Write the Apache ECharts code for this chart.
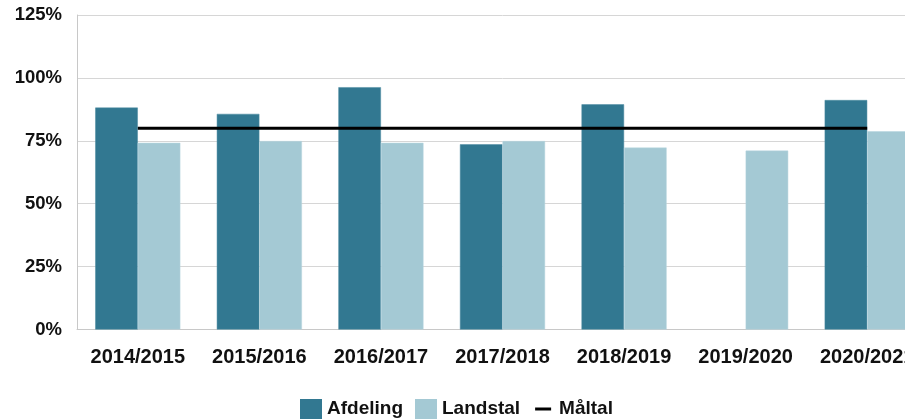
<!DOCTYPE html>
<html>
<head>
<meta charset="utf-8">
<script src="https://cdn.jsdelivr.net/npm/echarts@6/dist/echarts.min.js"></script>
<style>
  html, body { margin: 0; padding: 0; background: #fff; overflow: hidden; }
  #chart { width: 960px; height: 419px; }
</style>
</head>
<body>
<div id="chart"></div>
<script>
// data
const categories = ['2014/2015', '2015/2016', '2016/2017', '2017/2018', '2018/2019', '2019/2020', '2020/2021']
const afdeling = [88.2, 85.7, 96.3, 73.6, 89.5, null, 91.2]
const landstal = [74.2, 74.9, 74.2, 74.9, 72.3, 71.1, 78.8]
const maltal = [80, 80, 80, 80, 80, 80, 80]
const yTicks = [0, 25, 50, 75, 100, 125]

const font = '"Liberation Sans", Arial, sans-serif'
const myChart = echarts.init(document.getElementById('chart'))

myChart.setOption({
  animation: false,
  grid: { left: 77, right: 32, top: 15, bottom: 89.5 },
  legend: {
    left: 300,
    top: 399,
    padding: 0,
    itemWidth: 22,
    itemHeight: 20,
    itemGap: 12,
    icon: 'rect',
    itemStyle: { borderWidth: 0 },
    textStyle: { fontFamily: font, fontWeight: 'bold', fontSize: 19, color: '#111' },
    data: [
      'Afdeling',
      'Landstal',
      // thin black dash for the target line, with the bounding box kept by the moves
      { name: 'Måltal', icon: 'path://M0,0M22,20M3,8.5H19V11.5H3Z' }
    ]
  },
  xAxis: {
    type: 'category',
    data: categories,
    axisLine: { lineStyle: { color: '#c8c8c8' } },
    axisTick: { show: false },
    axisLabel: {
      interval: 0,
      margin: 18,
      fontFamily: font, fontWeight: 'bold', fontSize: 20, color: '#111'
    }
  },
  yAxis: {
    type: 'value',
    min: yTicks[0],
    max: yTicks[yTicks.length - 1],
    interval: 25,
    axisLine: { show: true, lineStyle: { color: '#c8c8c8' } },
    axisTick: { show: false },
    splitLine: { lineStyle: { color: '#d6d6d6' } },
    axisLabel: {
      margin: 15,
      formatter: '{value}%',
      fontFamily: font, fontWeight: 'bold', fontSize: 18.5, color: '#111'
    }
  },
  series: [
    {
      name: 'Afdeling',
      type: 'bar',
      data: afdeling,
      barCategoryGap: '30%',
      barGap: '0%',
      itemStyle: { color: '#327891', borderColor: '#4d8aa0', borderWidth: 0.5 }
    },
    {
      name: 'Landstal',
      type: 'bar',
      data: landstal,
      barCategoryGap: '30%',
      barGap: '0%',
      itemStyle: { color: '#a4c9d4', borderColor: '#b6d5de', borderWidth: 0.5 }
    },
    {
      name: 'Måltal',
      type: 'line',
      data: maltal,
      symbol: 'none',
      z: 5,
      lineStyle: { color: '#000', width: 3 },
      itemStyle: { color: '#000' }
    }
  ]
})
</script>
</body>
</html>
